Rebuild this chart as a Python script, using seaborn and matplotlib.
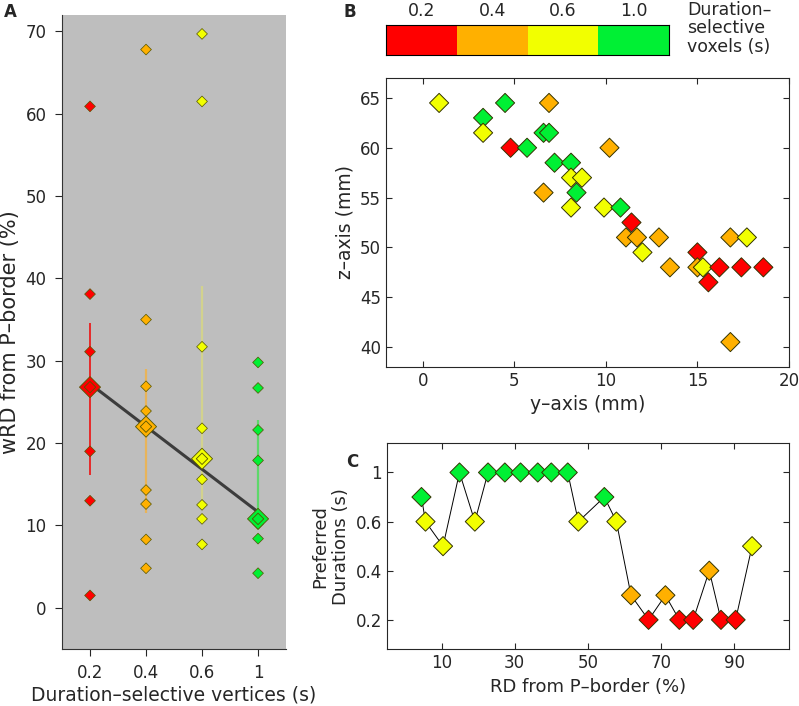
import numpy as np
import pandas as pd
import matplotlib
matplotlib.use('Agg')
import matplotlib.pyplot as plt
import seaborn as sns
from matplotlib.colors import ListedColormap

# duration classes and their colours
durations = ['0.2', '0.4', '0.6', '1.0']
dur_colors = ['#ff0000', '#ffb000', '#f2ff00', '#00f034']
palette = dict(zip(durations, dur_colors))

# panel A: wRD per duration-selective vertex
wrd_02 = [60.9, 38.1, 31.1, 27.0, 19.0, 13.0, 1.5]
wrd_04 = [67.8, 35.0, 26.9, 23.9, 14.3, 12.6, 8.3, 4.8]
wrd_06 = [69.7, 61.5, 31.7, 21.8, 15.6, 12.5, 10.8, 7.7]
wrd_10 = [29.8, 26.7, 21.6, 17.9, 10.2, 8.4, 4.2]
wrd_mean = [26.8, 22.0, 18.1, 10.8]
err_low = [16.1, 11.5, 13.2, 10.5]
err_high = [34.6, 29.0, 39.1, 22.8]
err_colors = ['#ee1010', '#e8b45a', '#d2d28e', '#5ed86a']
a_ticklabels = ['0.2', '0.4', '0.6', '1']

# panel B: voxel positions
y_mm = [0.9, 3.3, 3.3, 4.5, 4.8, 5.7, 6.9, 6.6, 6.9, 7.2, 6.6, 8.1, 8.1, 8.7, 8.4, 8.1, 10.2, 9.9,
        10.8, 11.4, 11.1, 11.7, 12.0, 12.9, 13.5, 15.0, 15.0, 15.3, 15.6, 16.2, 16.8, 17.7, 17.4,
        18.6, 16.8]
z_mm = [64.5, 63.0, 61.5, 64.5, 60.0, 60.0, 64.5, 61.5, 61.5, 58.5, 55.5, 58.5, 57.0, 57.0, 55.5,
        54.0, 60.0, 54.0, 54.0, 52.5, 51.0, 51.0, 49.5, 51.0, 48.0, 49.5, 48.0, 48.0, 46.5, 48.0,
        51.0, 51.0, 48.0, 48.0, 40.5]
b_dur = ['0.6', '1.0', '0.6', '1.0', '0.2', '1.0', '0.4', '1.0', '1.0', '1.0', '0.4', '1.0', '0.6',
         '0.6', '1.0', '0.6', '0.4', '0.6', '1.0', '0.2', '0.4', '0.4', '0.6', '0.4', '0.4', '0.2',
         '0.4', '0.6', '0.2', '0.2', '0.4', '0.6', '0.2', '0.2', '0.4']

# panel C: preferred duration along RD
rd_pct = [4.5, 5.6, 10.4, 14.9, 19.1, 22.7, 27.3, 31.6, 36.3, 40.0, 44.5, 47.4, 54.5, 57.8,
          61.8, 66.6, 71.2, 75.0, 78.8, 83.2, 86.4, 90.4, 94.9]
pref_dur = [0.7, 0.6, 0.5, 1.0, 0.6, 1.0, 1.0, 1.0, 1.0, 1.0, 1.0, 0.6, 0.7, 0.6,
            0.3, 0.2, 0.3, 0.2, 0.2, 0.4, 0.2, 0.2, 0.5]
c_yticks = [0.2, 0.4, 0.6, 0.8]
c_yticklabels = ['0.2', '0.4', '0.6', '1']


def dur_class(v):
    if v <= 0.2:
        return '0.2'
    if v <= 0.4:
        return '0.4'
    if v <= 0.6:
        return '0.6'
    return '1.0'


sns.set_style('ticks')
plt.rcParams['font.family'] = ['DejaVu Sans']

fig = plt.figure(figsize=(7.99, 7.06), dpi=100)

# ---------------- panel A ----------------
axA = fig.add_axes([0.0776, 0.0808, 0.2804, 0.898])
axA.set_facecolor('#bebebe')
groups = [wrd_02, wrd_04, wrd_06, wrd_10]
dfA = pd.DataFrame({
    'pos': np.concatenate([[i + 1] * len(g) for i, g in enumerate(groups)]),
    'wrd': np.concatenate(groups),
    'dur': np.concatenate([[durations[i]] * len(g) for i, g in enumerate(groups)]),
})
for i in range(4):
    axA.vlines(i + 1, err_low[i], err_high[i], color=err_colors[i], lw=1.6 if i else 1.2, zorder=1)
sns.regplot(x=np.arange(1, 5), y=wrd_mean, ci=None, scatter=False, ax=axA,
            line_kws=dict(color='#3c3c3c', lw=2.2, zorder=2))
sns.scatterplot(data=dfA, x='pos', y='wrd', hue='dur', palette=palette, marker='D', s=30,
                edgecolor='#555500', linewidth=0.5, legend=False, ax=axA, zorder=3)
dfM = pd.DataFrame({'pos': np.arange(1, 5), 'wrd': wrd_mean, 'dur': durations})
sns.scatterplot(data=dfM, x='pos', y='wrd', hue='dur', palette=palette, marker='D', s=115,
                edgecolor='#555500', linewidth=0.6, legend=False, ax=axA, zorder=4)
sns.scatterplot(data=dfM, x='pos', y='wrd', hue='dur', palette=palette, marker='D', s=34,
                edgecolor='#555500', linewidth=0.6, legend=False, ax=axA, zorder=5)
axA.set_xlim(0.5, 4.5)
axA.set_ylim(-5, 72)
axA.set_xticks(np.arange(1, 5))
axA.set_xticklabels(a_ticklabels)
axA.set_yticks(np.arange(0, 71, 10))
axA.set_xlabel('Duration–selective vertices (s)', fontsize=13.5, labelpad=2)
axA.set_ylabel('wRD from P–border (%)', fontsize=15)
axA.tick_params(labelsize=12, length=5, direction='out', pad=6)
sns.despine(ax=axA)
for s in ['left', 'bottom']:
    axA.spines[s].set_color('#333333')
fig.text(0.0125, 0.983, 'A', fontsize=12, fontweight='bold', va='center', ha='center')

# ---------------- panel B ----------------
axB = fig.add_axes([0.4831, 0.4802, 0.5044, 0.4093])
dfB = pd.DataFrame({'y': y_mm, 'z': z_mm, 'dur': b_dur})
sns.scatterplot(data=dfB, x='y', y='z', hue='dur', palette=palette, marker='D', s=95,
                edgecolor='#333300', linewidth=0.7, legend=False, ax=axB)
axB.set_xlim(-2, 20)
axB.set_ylim(38, 67)
axB.set_xticks(np.arange(0, 21, 5))
axB.set_yticks(np.arange(40, 66, 5))
axB.set_xlabel('y–axis (mm)', fontsize=13.5)
axB.set_ylabel('z–axis (mm)', fontsize=13.5)
axB.tick_params(labelsize=12, length=4, direction='in', top=True, right=True)
fig.text(0.438, 0.983, 'B', fontsize=12, fontweight='bold', va='center', ha='center')

# colour scale
cax = fig.add_axes([0.4831, 0.9217, 0.3546, 0.0429])
sns.heatmap([[0, 1, 2, 3]], cmap=ListedColormap(dur_colors), cbar=False, ax=cax,
            vmin=-0.5, vmax=3.5)
for s in cax.spines.values():
    s.set_visible(True)
    s.set_color('black')
cax.set_yticks([])
cax.xaxis.tick_top()
cax.set_xticks(np.arange(4) + 0.5)
cax.set_xticklabels(durations)
cax.tick_params(axis='x', labelsize=12.5, length=4, direction='in', top=True, bottom=False)
fig.text(0.86, 0.999, 'Duration–\nselective\nvoxels (s)', fontsize=12.5, va='top', linespacing=1.05)

# ---------------- panel C ----------------
axC = fig.add_axes([0.484, 0.0803, 0.5035, 0.2922])
pref_pos = [min(v, 0.8) for v in pref_dur]  # 1 s is drawn at the top tick
dfC = pd.DataFrame({'rd': rd_pct, 'pos': pref_pos, 'dur': [dur_class(v) for v in pref_dur]})
sns.lineplot(data=dfC, x='rd', y='pos', sort=False, color='black', lw=0.7, ax=axC, zorder=1)
sns.scatterplot(data=dfC, x='rd', y='pos', hue='dur', palette=palette, marker='D', s=95,
                edgecolor='#333300', linewidth=0.7, legend=False, ax=axC, zorder=2)
axC.set_xlim(-5, 105)
axC.set_ylim(0.08, 0.92)
axC.set_xticks([10, 30, 50, 70, 90])
axC.set_yticks(c_yticks)
axC.set_yticklabels(c_yticklabels)
axC.set_xlabel('RD from P–border (%)', fontsize=13)
axC.set_ylabel('Preferred\nDurations (s)', fontsize=13)
axC.tick_params(labelsize=12, length=4, direction='in', top=True, right=True)
fig.text(0.4405, 0.3456, 'C', fontsize=12, fontweight='bold', va='center', ha='center')

fig.savefig('out.png', dpi=100)
